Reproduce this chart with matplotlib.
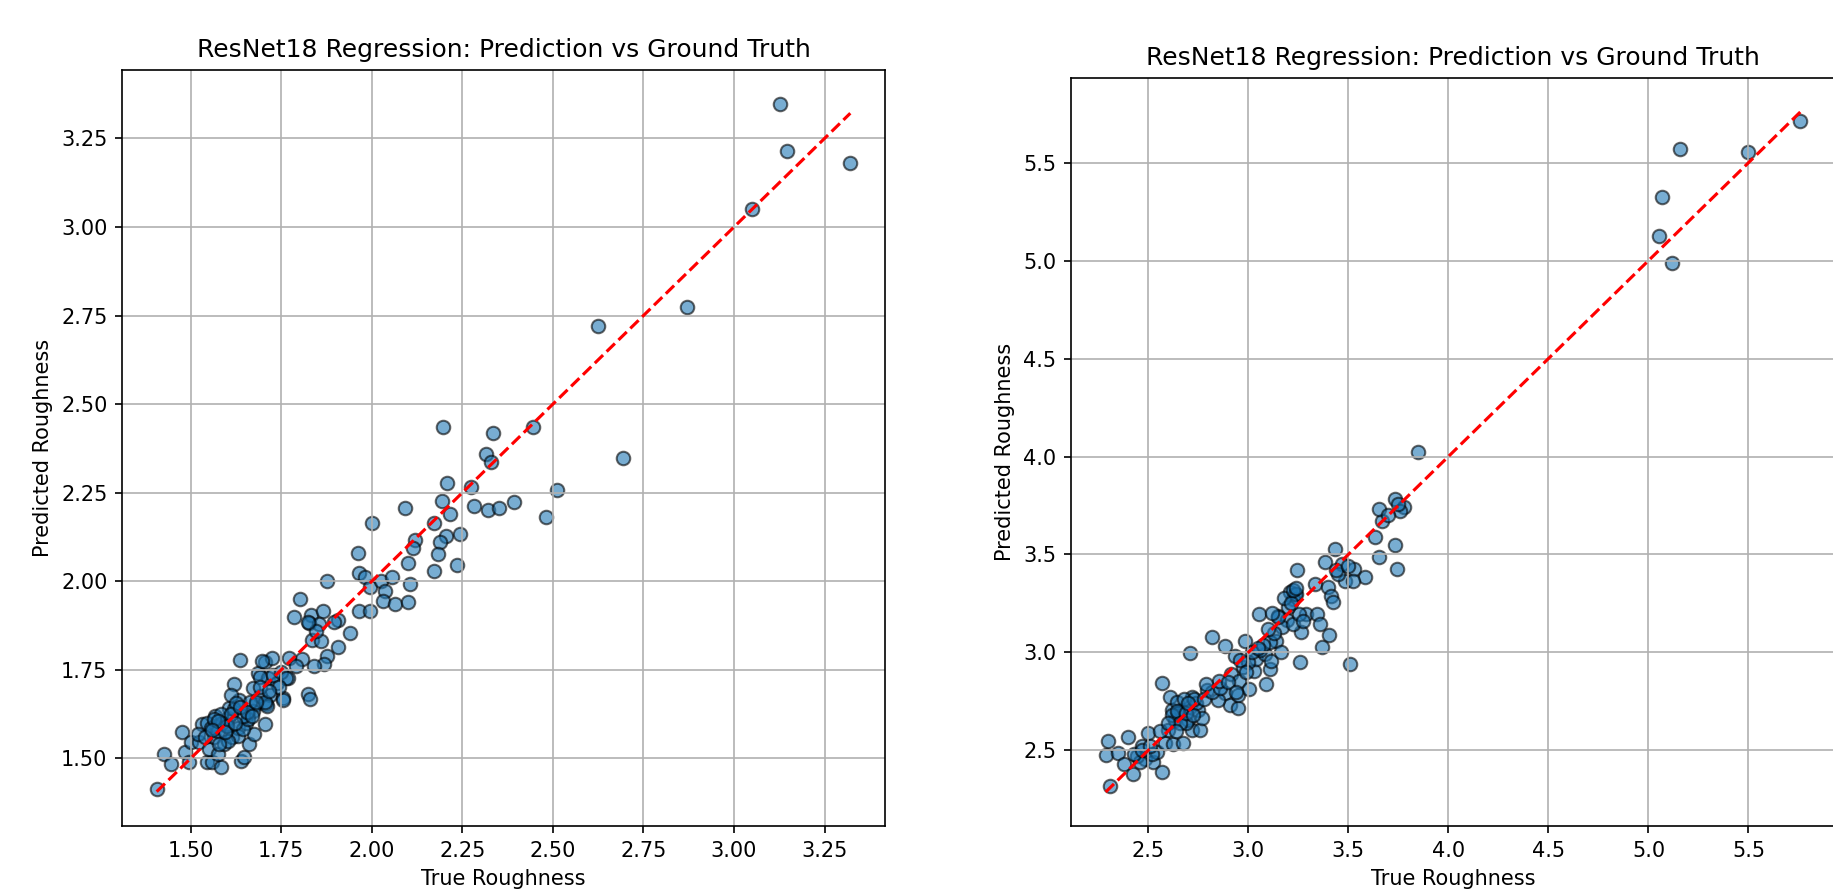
import matplotlib
matplotlib.use("Agg")
import matplotlib.pyplot as plt
import numpy as np

# region data: left panel (true, predicted)
left_true = [
    # dense lower cluster
    1.406, 1.426, 1.446, 1.477, 1.484, 1.495, 1.500, 1.523, 1.532, 1.544,
    1.560, 1.551, 1.563, 1.567, 1.583, 1.576, 1.593, 1.597, 1.602, 1.613,
    1.631, 1.639, 1.648, 1.634, 1.619, 1.637, 1.657, 1.662, 1.676, 1.681,
    1.685, 1.704, 1.704, 1.708, 1.718, 1.725, 1.713, 1.739, 1.755, 1.769,
    1.569, 1.574, 1.606, 1.630, 1.653, 1.671, 1.690, 1.583, 1.546, 1.602,
    1.579, 1.644, 1.556, 1.519, 1.659, 1.611, 1.671, 1.690, 1.727, 1.750,
    1.824, 1.829, 1.762, 1.756, 1.698, 1.710, 1.663, 1.587, 1.620, 1.645,
    1.540, 1.565, 1.600, 1.625, 1.690, 1.705, 1.745,
    1.575, 1.610, 1.635, 1.655, 1.595, 1.680, 1.715, 1.560, 1.622, 1.668,
    # middle
    1.877, 1.803, 1.785, 1.831, 1.866, 1.827, 1.854, 1.906, 1.941, 1.836,
    1.859, 1.906, 1.895, 1.875, 1.867, 1.840, 1.808, 1.771, 1.790,
    1.961, 1.965, 1.982, 1.994, 2.025, 2.055, 2.037, 2.032, 2.064, 2.101,
    1.965, 1.994, 2.000, 2.091, 2.171, 2.119, 2.114, 2.206, 2.244, 2.189,
    2.184, 2.099, 2.235, 2.171, 2.105, 1.845, 1.825,
    2.197, 2.334, 2.446, 2.315, 2.329, 2.207, 2.274, 2.512, 2.194, 2.283,
    2.320, 2.352, 2.393, 2.480, 2.217,
    # upper outliers
    2.625, 2.693, 2.869, 3.049, 3.126, 3.145, 3.321,
]
left_pred = [
    1.414, 1.512, 1.484, 1.573, 1.517, 1.489, 1.545, 1.545, 1.596, 1.489,
    1.489, 1.526, 1.559, 1.619, 1.475, 1.512, 1.540, 1.596, 1.615, 1.559,
    1.587, 1.493, 1.503, 1.666, 1.710, 1.778, 1.624, 1.540, 1.568, 1.652,
    1.741, 1.773, 1.596, 1.652, 1.680, 1.783, 1.727, 1.713, 1.671, 1.727,
    1.591, 1.577, 1.643, 1.563, 1.601, 1.633, 1.675, 1.624, 1.601, 1.549,
    1.540, 1.582, 1.587, 1.568, 1.610, 1.680, 1.699, 1.731, 1.736, 1.745,
    1.682, 1.668, 1.727, 1.666, 1.775, 1.647, 1.658, 1.600, 1.640, 1.620,
    1.560, 1.610, 1.590, 1.655, 1.700, 1.660, 1.700,
    1.605, 1.625, 1.645, 1.630, 1.575, 1.660, 1.690, 1.580, 1.600, 1.620,
    2.000, 1.951, 1.900, 1.906, 1.916, 1.883, 1.878, 1.891, 1.855, 1.835,
    1.832, 1.814, 1.886, 1.788, 1.765, 1.761, 1.779, 1.784, 1.761,
    2.079, 2.023, 2.011, 1.983, 2.000, 2.011, 1.971, 1.943, 1.937, 1.942,
    1.916, 1.916, 2.164, 2.206, 2.164, 2.116, 2.093, 2.129, 2.132, 2.110,
    2.078, 2.051, 2.047, 2.028, 1.993, 1.860, 1.885,
    2.435, 2.417, 2.435, 2.359, 2.336, 2.276, 2.266, 2.257, 2.226, 2.211,
    2.201, 2.206, 2.224, 2.180, 2.189,
    2.721, 2.347, 2.775, 3.052, 3.346, 3.213, 3.181,
]
# endregion

# region data: right panel (true, predicted)
right_true = [
    # lower cluster
    2.308, 2.297, 2.287, 2.350, 2.400, 2.380, 2.425, 2.467, 2.483, 2.525,
    2.567, 2.497, 2.542, 2.442, 2.583, 2.625, 2.675, 2.600, 2.633, 2.617,
    2.663, 2.717, 2.758, 2.700, 2.570, 2.608, 2.642, 2.717, 2.708, 2.750,
    2.767, 2.792, 2.883, 2.908, 2.950, 2.950, 2.708, 2.850, 2.520, 2.460,
    2.650, 2.690, 2.740, 2.560, 2.680,
    2.430, 2.470, 2.510, 2.620, 2.645, 2.660, 2.690, 2.725, 2.730, 2.780,
    2.820, 2.860, 2.600, 2.640, 2.700,
    # middle cluster
    2.820, 2.884, 2.934, 2.971, 3.030, 3.106, 3.089, 2.913, 2.854, 2.955,
    2.787, 3.005, 3.039, 2.985, 3.081, 3.114, 3.055, 3.148, 3.193, 3.265,
    3.169, 3.139, 3.106, 3.164, 3.223, 3.290, 3.243, 3.210, 3.232, 3.223,
    3.253, 3.273, 3.341, 3.357, 3.404, 3.366, 3.257, 3.508, 3.000, 3.060,
    3.130, 3.200, 2.900, 3.180, 3.240,
    2.960, 2.990, 3.020, 3.075, 3.100, 3.150, 3.215, 3.225, 3.240, 3.120,
    2.940, 3.050,
    # upper cluster
    3.332, 3.399, 3.413, 3.421, 3.433, 3.383, 3.466, 3.529, 3.584, 3.483,
    3.525, 3.651, 3.668, 3.634, 3.735, 3.651, 3.743, 3.735, 3.777, 3.760,
    3.450, 3.700, 3.847, 3.440, 3.500, 3.750,
    # outliers
    5.051, 5.068, 5.119, 5.159, 5.500, 5.759,
]
right_pred = [
    2.320, 2.547, 2.475, 2.488, 2.569, 2.430, 2.379, 2.522, 2.455, 2.438,
    2.391, 2.588, 2.492, 2.472, 2.535, 2.530, 2.535, 2.606, 2.656, 2.706,
    2.706, 2.606, 2.606, 2.656, 2.841, 2.773, 2.748, 2.773, 2.723, 2.706,
    2.664, 2.807, 2.790, 2.732, 2.715, 2.782, 2.995, 2.757, 2.480, 2.440,
    2.690, 2.640, 2.740, 2.600, 2.760,
    2.480, 2.500, 2.520, 2.680, 2.700, 2.640, 2.690, 2.680, 2.760, 2.760,
    2.800, 2.820, 2.640, 2.600, 2.740,
    3.077, 3.034, 2.983, 2.923, 2.906, 2.915, 2.838, 2.889, 2.855, 2.855,
    2.838, 2.813, 2.966, 3.060, 2.991, 2.957, 3.196, 3.188, 3.165, 3.102,
    3.128, 3.060, 3.051, 3.000, 3.145, 3.196, 3.421, 3.307, 3.298, 3.273,
    3.196, 3.162, 3.196, 3.145, 3.089, 3.026, 2.949, 2.940, 2.950, 3.010,
    3.100, 3.230, 2.850, 3.280, 3.300,
    2.960, 2.900, 3.000, 3.040, 3.120, 3.180, 3.250, 3.320, 3.330, 3.200,
    2.800, 3.020,
    3.349, 3.332, 3.290, 3.256, 3.528, 3.460, 3.451, 3.426, 3.387, 3.366,
    3.366, 3.486, 3.673, 3.588, 3.550, 3.733, 3.426, 3.784, 3.741, 3.724,
    3.400, 3.700, 4.022, 3.420, 3.440, 3.760,
    5.126, 5.323, 4.987, 5.570, 5.555, 5.712,
]
# endregion

W, H, DPI = 1833, 892, 150
fig = plt.figure(figsize=(W / DPI, H / DPI), dpi=DPI)

ax1 = fig.add_axes([122 / W, 66 / H, 763 / W, 756 / H])
ax2 = fig.add_axes([1071 / W, 66 / H, 764 / W, 748 / H])

for ax, yt, yp in [(ax1, left_true, left_pred), (ax2, right_true, right_pred)]:
    yt = np.array(yt)
    yp = np.array(yp)
    ax.scatter(yt, yp, s=42, alpha=0.6, edgecolors="k")
    ax.plot([yt.min(), yt.max()], [yt.min(), yt.max()], "r--", lw=1.5)
    ax.set_xlabel("True Roughness")
    ax.set_ylabel("Predicted Roughness")
    ax.set_title("ResNet18 Regression: Prediction vs Ground Truth")
    ax.grid(True)

ax1.set_xticks([1.50, 1.75, 2.00, 2.25, 2.50, 2.75, 3.00, 3.25])
ax1.set_yticks([1.50, 1.75, 2.00, 2.25, 2.50, 2.75, 3.00, 3.25])

fig.savefig("out.png", dpi=DPI)
